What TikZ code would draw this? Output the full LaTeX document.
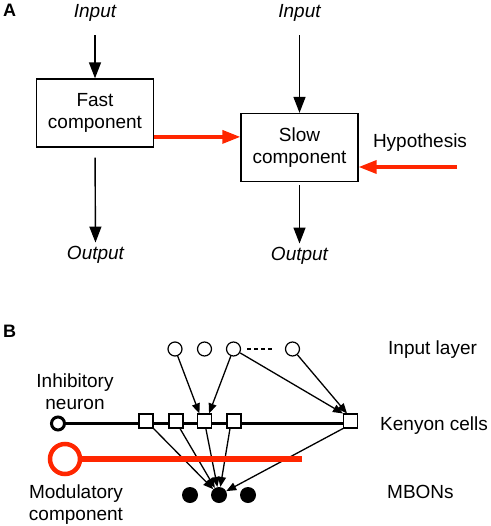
\documentclass[tikz,border=0pt]{standalone}
\usepackage{fontspec}
\setmainfont{Liberation Sans}
\usetikzlibrary{arrows.meta,calc,backgrounds}
\definecolor{hred}{RGB}{255,38,0}
\begin{document}
\begin{tikzpicture}[x=1pt,y=-1pt,
  txt/.style={inner sep=0pt, font=\fontsize{19}{21.5}\selectfont},
  ittxt/.style={inner sep=0pt, font=\fontsize{19}{21.5}\selectfont\itshape},
  lab/.style={inner sep=0pt, font=\fontsize{18}{20}\selectfont\bfseries},
  box/.style={draw, line width=1.3pt, minimum width=117pt, minimum height=68pt, inner sep=0pt, align=center, font=\fontsize{19}{21.5}\selectfont},
  barr/.style={line width=1.4pt, -{Triangle[length=16pt,width=12pt]}},
  rarr/.style={hred, line width=3.5pt, -{Triangle[length=18pt,width=13pt]}},
  sarr/.style={line width=1.3pt, -{Triangle[length=10pt,width=8pt]}},
  inp/.style={circle, draw, line width=1.2pt, fill=white, minimum size=14pt, inner sep=0pt},
  kc/.style={rectangle, draw, line width=1.1pt, fill=white, minimum size=14pt, inner sep=0pt},
  mb/.style={circle, fill=black, minimum size=16pt, inner sep=0pt}
]
\useasboundingbox (0,0) rectangle (490,526);

% ---------- Panel A ----------
\node[lab, anchor=base west] (la) at (3,17) {A};
\node[ittxt, anchor=base] (in1) at (95,18) {Input};
\node[ittxt, anchor=base] (in2) at (299.5,18) {Input};
\node[box] (fast) at (95,113) {Fast\\component};
\node[box] (slow) at (299.5,147.5) {Slow\\component};
\node[ittxt, anchor=base] (out1) at (95.5,259) {Output};
\node[ittxt, anchor=base] (out2) at (299.5,260) {Output};
\node[txt, anchor=base] (hyp) at (420,148) {Hypothesis};
\coordinate (hs) at (457,167);

\draw[barr, shorten <=13pt] (in1.south) -- (fast.north);
\draw[barr, shorten <=10pt, shorten >=3pt] (fast.south) -- (out1.north);
\draw[barr, shorten <=13pt] (in2.south) -- (slow.north);
\draw[barr, shorten <=3pt, shorten >=3pt] (slow.south) -- (out2.north);
\draw[rarr] (fast.-22) -- (fast.-22 -| slow.west);
\draw[rarr] (hs) -- (hs -| slow.east);

% ---------- Panel B ----------
\node[lab, anchor=base west] (lb) at (3,337) {B};

\node[inp] (i1) at (175,349) {};
\node[inp] (i2) at (204.5,349) {};
\node[inp] (i3) at (233.5,349) {};
\node[inp] (i4) at (292.5,349) {};
\draw[line width=1.2pt, dash pattern=on 4pt off 3pt, shorten <=6pt, shorten >=10pt] (i3) -- (i4);

\node[circle, draw, line width=3pt, fill=white, minimum size=13pt, inner sep=0pt] (inh) at (58,423.5) {};
\node[kc] (k1) at (146,421) {};
\node[kc] (k2) at (176,421) {};
\node[kc] (k3) at (204.5,421) {};
\node[kc] (k4) at (234,421) {};
\node[kc] (k5) at (350.5,421) {};
\begin{scope}[on background layer]
  \draw[line width=2.8pt] (inh) -- (inh -| k5.east);
\end{scope}

\node[mb] (m1) at (190,495) {};
\node[mb] (m2) at (219,495) {};
\node[mb] (m3) at (248,495) {};

\draw[sarr] (i1) -- (k3.124);
\draw[sarr] (i3) -- (k3.59);
\draw[sarr] (i3) -- (k5.north west);
\draw[sarr] (i4) -- (k5.115);
\draw[sarr] (k1.south east) -- (m2);
\draw[sarr] (k2.-62) -- (m2);
\draw[sarr] (k3.-80) -- (m2);
\draw[sarr] (k4.-118) -- (m2);
\draw[sarr] (k5.south west) -- (m2);

\node[circle, draw=hred, line width=4.5pt, minimum size=30pt, inner sep=0pt] (mod) at (65,459) {};
\coordinate (rend) at (302,459);
\draw[hred, line width=6.5pt] (mod) -- (rend);

\node[txt, anchor=base west] (tin) at (388,354) {Input layer};
\node[txt, anchor=base west] (tkc) at (380,430) {Kenyon cells};
\node[txt, anchor=base west] (tmb) at (387,498) {MBONs};
\node[txt, align=center] (tinh) at (75,391.5) {Inhibitory\\neuron};
\node[txt, align=center] (tmod) at (76,504.5) {Modulatory\\component};
\end{tikzpicture}
\end{document}
